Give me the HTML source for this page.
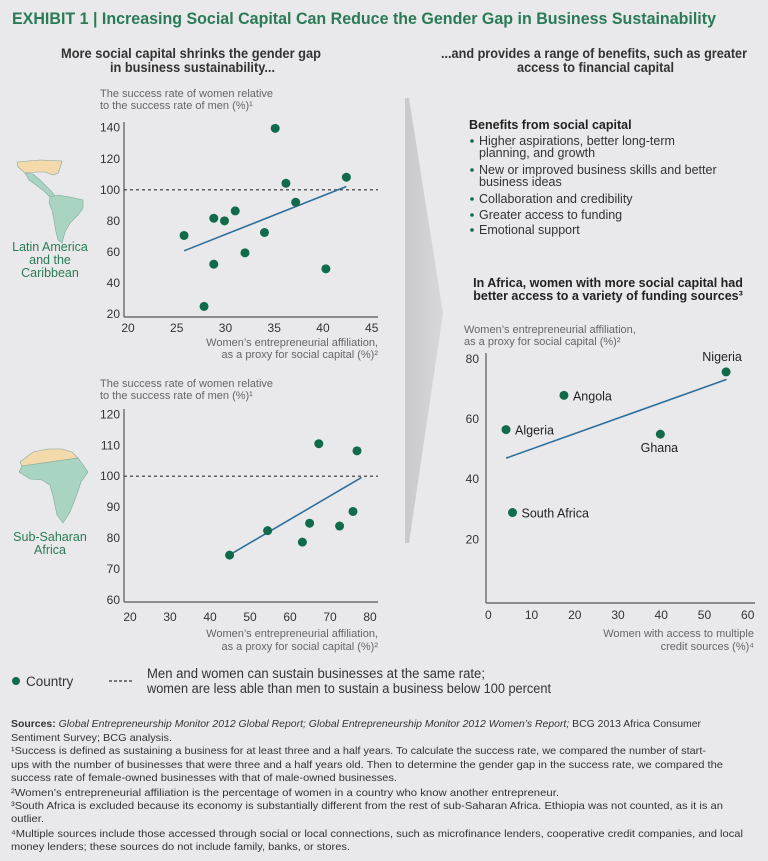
<!DOCTYPE html>
<html><head><meta charset="utf-8">
<style>
html,body{margin:0;padding:0;background:#e9e9eb;}
svg{display:block;font-family:"Liberation Sans Narrow","Liberation Sans",sans-serif;}
.t{fill:#333;}
.lab{fill:#666;font-size:11px;}
.tick{fill:#333;font-size:12px;font-family:"Liberation Sans",sans-serif;}
.ben{fill:#333;font-size:12.5px;font-family:"Liberation Sans",sans-serif;}
.fn{fill:#333;font-size:10.5px;}
</style></head>
<body>
<svg id="page" width="768" height="861" viewBox="0 0 768 861">
<defs>
<linearGradient id="chev" x1="0" x2="1" y1="0" y2="0"><stop offset="0" stop-color="#c9c9cc"/><stop offset="1" stop-color="#d8d8db"/></linearGradient>
</defs>
<rect width="768" height="861" fill="#e9e9eb"/>
<text x="12" y="24" font-size="17" font-weight="bold" fill="#2a7b55" textLength="704" lengthAdjust="spacingAndGlyphs">EXHIBIT 1 | Increasing Social Capital Can Reduce the Gender Gap in Business Sustainability</text>

<g font-size="14" font-weight="bold" class="t">
<text x="61" y="58" textLength="260" lengthAdjust="spacingAndGlyphs" fill="#333">More social capital shrinks the gender gap</text>
<text x="110" y="72" textLength="165" lengthAdjust="spacingAndGlyphs" fill="#333">in business sustainability...</text>
</g>
<g font-size="14" font-weight="bold">
<text x="441" y="58" textLength="306" lengthAdjust="spacingAndGlyphs" fill="#333">...and provides a range of benefits, such as greater</text>
<text x="517" y="72" textLength="157" lengthAdjust="spacingAndGlyphs" fill="#333">access to financial capital</text>
</g>

<polygon points="405,98 409,98 443,313 409,543 405,543" fill="url(#chev)"/>

<!-- maps -->
<g stroke="#7fa89a" stroke-width="0.6">
<polygon points="17,162 40,160 62,161 60,168 58,173 53,175 45,172 37,172 25,173 18,167" fill="#f4d9aa"/>
<polygon points="25,173 33,174 40,180 47,187 52,192 55,196 50,197 44,191 36,185 29,180" fill="#a9d4c1"/>
<polygon points="50,197 58,195 70,197 83,200 83,208 78,215 70,223 65,232 62,243 58,240 56,232 54,220 52,210 49,203" fill="#a9d4c1"/>
</g>
<g font-size="12.5" fill="#2a7b55" text-anchor="middle" font-family="Liberation Sans,sans-serif">
<text x="50" y="251" fill="#2a7b55">Latin America</text><text x="50" y="264" fill="#2a7b55">and the</text><text x="50" y="277" fill="#2a7b55">Caribbean</text>
</g>
<g stroke="#7fa89a" stroke-width="0.6">
<polygon points="20,462 33,452 48,449 62,449 72,452 78,458 22,466" fill="#f4d9aa"/>
<polygon points="22,466 78,458 84,466 88,472 81,482 76,497 70,512 63,523 57,515 53,496 50,485 42,480 30,479 19,472" fill="#a9d4c1"/>
</g>
<g font-size="12.5" text-anchor="middle" font-family="Liberation Sans,sans-serif">
<text x="50" y="541" fill="#2a7b55">Sub-Saharan</text><text x="50" y="554" fill="#2a7b55">Africa</text>
</g>

<!-- chart labels -->
<g class="lab"><text x="100" y="97" class="lab">The success rate of women relative</text><text x="100" y="109" class="lab">to the success rate of men (%)¹</text></g>
<g text-anchor="end"><text x="378" y="346" class="lab">Women’s entrepreneurial affiliation,</text><text x="378" y="358" class="lab">as a proxy for social capital (%)²</text></g>
<g><text x="100" y="387" class="lab">The success rate of women relative</text><text x="100" y="399" class="lab">to the success rate of men (%)¹</text></g>
<g text-anchor="end"><text x="378" y="637" class="lab">Women’s entrepreneurial affiliation,</text><text x="378" y="650" class="lab">as a proxy for social capital (%)²</text></g>
<g><text x="464" y="333" class="lab">Women’s entrepreneurial affiliation,</text><text x="464" y="345" class="lab">as a proxy for social capital (%)²</text></g>
<g text-anchor="end"><text x="754" y="637" class="lab">Women with access to multiple</text><text x="754" y="650" class="lab">credit sources (%)⁴</text></g>

<!-- benefits -->
<g>
<text x="469" y="129" font-size="12.5" font-weight="bold" fill="#222" font-family="Liberation Sans,sans-serif">Benefits from social capital</text>
<g fill="#0f6b4a"><circle cx="472" cy="141" r="1.8"/><circle cx="472" cy="170" r="1.8"/><circle cx="472" cy="199" r="1.8"/><circle cx="472" cy="215" r="1.8"/><circle cx="472" cy="230" r="1.8"/></g>
<text x="479" y="145" class="ben">Higher aspirations, better long-term</text>
<text x="479" y="157" class="ben">planning, and growth</text>
<text x="479" y="174" class="ben">New or improved business skills and better</text>
<text x="479" y="186" class="ben">business ideas</text>
<text x="479" y="203" class="ben">Collaboration and credibility</text>
<text x="479" y="219" class="ben">Greater access to funding</text>
<text x="479" y="234" class="ben">Emotional support</text>
</g>
<g text-anchor="middle" font-weight="bold" font-size="12.5" font-family="Liberation Sans,sans-serif">
<text x="608" y="287" fill="#222">In Africa, women with more social capital had</text>
<text x="608" y="300" fill="#222">better access to a variety of funding sources³</text>
</g>

<g id="c1"></g>
<g id="c2"></g>
<g id="c3"></g>

<!-- legend -->
<g>
<circle cx="16" cy="681" r="4" fill="#0f6b4a"/>
<text x="26" y="686" font-size="13.5" fill="#333">Country</text>
<line x1="109" y1="681" x2="132" y2="681" stroke="#333" stroke-width="1.3" stroke-dasharray="3,2"/>
<text x="147" y="678" font-size="13.5" fill="#333" textLength="338" lengthAdjust="spacingAndGlyphs">Men and women can sustain businesses at the same rate;</text>
<text x="147" y="693" font-size="13.5" fill="#333" textLength="404" lengthAdjust="spacingAndGlyphs">women are less able than men to sustain a business below 100 percent</text>
</g>

<g class="fn">
<text x="11" y="727" class="fn" textLength="690" lengthAdjust="spacingAndGlyphs"><tspan font-weight="bold">Sources: </tspan><tspan font-style="italic">Global Entrepreneurship Monitor 2012 Global Report; Global Entrepreneurship Monitor 2012 Women’s Report;</tspan> BCG 2013 Africa Consumer</text>
<text x="11" y="741" class="fn" textLength="161" lengthAdjust="spacingAndGlyphs">Sentiment Survey; BCG analysis.</text>
<text x="11" y="754" class="fn" textLength="695" lengthAdjust="spacingAndGlyphs">¹Success is defined as sustaining a business for at least three and a half years. To calculate the success rate, we compared the number of start-</text>
<text x="11" y="768" class="fn" textLength="712" lengthAdjust="spacingAndGlyphs">ups with the number of businesses that were three and a half years old. Then to determine the gender gap in the success rate, we compared the</text>
<text x="11" y="781" class="fn" textLength="386" lengthAdjust="spacingAndGlyphs">success rate of female-owned businesses with that of male-owned businesses.</text>
<text x="11" y="796" class="fn" textLength="548" lengthAdjust="spacingAndGlyphs">²Women’s entrepreneurial affiliation is the percentage of women in a country who know another entrepreneur.</text>
<text x="11" y="809" class="fn" textLength="712" lengthAdjust="spacingAndGlyphs">³South Africa is excluded because its economy is substantially different from the rest of sub-Saharan Africa. Ethiopia was not counted, as it is an</text>
<text x="11" y="822" class="fn" textLength="33" lengthAdjust="spacingAndGlyphs">outlier.</text>
<text x="11" y="837" class="fn" textLength="732" lengthAdjust="spacingAndGlyphs">⁴Multiple sources include those accessed through social or local connections, such as microfinance lenders, cooperative credit companies, and local</text>
<text x="11" y="850" class="fn" textLength="339" lengthAdjust="spacingAndGlyphs">money lenders; these sources do not include family, banks, or stores.</text>
</g>
</svg>
<script>
// Chart 1: Latin America and the Caribbean
const c1X = [25.75, 27.8, 28.8, 28.8, 29.9, 31.0, 32.0, 34.0, 35.1, 36.2, 37.2, 40.3, 42.4];
const c1Y = [70.6, 24.9, 81.7, 52.1, 80.0, 86.4, 59.4, 72.5, 139.6, 104.2, 92.0, 49.1, 108.1];
const c1TrendX = [25.75, 42.4];
const c1TrendY = [60.7, 102.1];
const c1XTicks = [20, 25, 30, 35, 40, 45];
const c1YTicks = [20, 40, 60, 80, 100, 120, 140];
const c1Parity = 100;
// Chart 2: Sub-Saharan Africa
const c2X = [44.9, 54.4, 63.1, 64.9, 67.2, 72.4, 75.75, 76.75];
const c2Y = [74.5, 82.4, 78.7, 84.8, 110.5, 83.9, 88.6, 108.2];
const c2TrendX = [44.9, 77.9];
const c2TrendY = [74.6, 99.6];
const c2XTicks = [20, 30, 40, 50, 60, 70, 80];
const c2YTicks = [60, 70, 80, 90, 100, 110, 120];
const c2Parity = 100;
// Chart 3: funding access
const c3Names = ["Algeria", "South Africa", "Angola", "Ghana", "Nigeria"];
const c3X = [4.1, 5.6, 17.5, 39.8, 55.0];
const c3Y = [56.5, 28.9, 67.9, 55.0, 75.7];
const c3TrendX = [4.1, 55.1];
const c3TrendY = [47.0, 73.2];
const c3XTicks = [0, 10, 20, 30, 40, 50, 60];
const c3YTicks = [20, 40, 60, 80];

const NS = "http://www.w3.org/2000/svg";
function mk(parent, tag, attrs) {
  const e = document.createElementNS(NS, tag);
  for (const k in attrs) e.setAttribute(k, attrs[k]);
  parent.appendChild(e);
  return e;
}
function scale(d0, d1, r0, r1) { return v => r0 + (v - d0) / (d1 - d0) * (r1 - r0); }

function drawChart(g, cfg) {
  const sx = scale(cfg.xd[0], cfg.xd[1], cfg.xr[0], cfg.xr[1]);
  const sy = scale(cfg.yd[0], cfg.yd[1], cfg.yr[0], cfg.yr[1]);
  const yax = mk(g, "line", {x1: cfg.axL, y1: cfg.axT, x2: cfg.axL, y2: cfg.axB, stroke: "#555", "stroke-width": 1.2});
  
  
  const xax = mk(g, "line", {x1: cfg.axL, y1: cfg.axB, x2: cfg.axR, y2: cfg.axB, stroke: "#555", "stroke-width": 1.2});
  
  
  cfg.yTicks.forEach(v => {
    const t = mk(g, "text", {x: cfg.yLabX, y: sy(v) + 4, "text-anchor": "end", class: "tick"});
    t.textContent = v;
    
    
  });
  cfg.xTicks.forEach(v => {
    const t = mk(g, "text", {x: sx(v), y: cfg.xLabY, "text-anchor": "middle", class: "tick"});
    t.textContent = v;
    
    
  });
  if (cfg.parity !== undefined) {
    const d = mk(g, "line", {x1: cfg.axL, y1: sy(cfg.parity), x2: cfg.axR, y2: sy(cfg.parity), stroke: "#333", "stroke-width": 1.2, "stroke-dasharray": "3,3"});
    
    
  }
  const tr = mk(g, "line", {x1: sx(cfg.tx[0]), y1: sy(cfg.ty[0]), x2: sx(cfg.tx[1]), y2: sy(cfg.ty[1]), stroke: "#2f6f9c", "stroke-width": 1.6});
  
  
  cfg.x.forEach((v, i) => {
    const c = mk(g, "circle", {cx: sx(v), cy: sy(cfg.y[i]), r: 4.5, fill: "#0f6b4a"});
    
    
  });
  return {sx, sy};
}

drawChart(document.getElementById("c1"), {
  xd: [20, 45], xr: [128, 371.7], yd: [20, 140], yr: [314, 127.7],
  axL: 124, axR: 378, axT: 122, axB: 317, yLabX: 120, xLabY: 332,
  yTicks: c1YTicks, xTicks: c1XTicks, parity: c1Parity,
  x: c1X, y: c1Y, tx: c1TrendX, ty: c1TrendY
});
drawChart(document.getElementById("c2"), {
  xd: [20, 80], xr: [130, 370], yd: [60, 120], yr: [600, 414.3],
  axL: 124, axR: 378, axT: 409, axB: 602, yLabX: 120, xLabY: 621,
  yTicks: c2YTicks, xTicks: c2XTicks, parity: c2Parity,
  x: c2X, y: c2Y, tx: c2TrendX, ty: c2TrendY
});
const s3 = drawChart(document.getElementById("c3"), {
  xd: [0, 60], xr: [488.3, 747.7], yd: [20, 80], yr: [539.3, 359],
  axL: 486, axR: 755, axT: 353, axB: 603, yLabX: 479, xLabY: 619,
  yTicks: c3YTicks, xTicks: c3XTicks,
  x: c3X, y: c3Y, tx: c3TrendX, ty: c3TrendY
});
const g3 = document.getElementById("c3");
c3Names.forEach((n, i) => {
  const px = s3.sx(c3X[i]), py = s3.sy(c3Y[i]);
  let attrs;
  if (n === "Nigeria") attrs = {x: px - 4, y: py - 11, "text-anchor": "middle"};
  else if (n === "Ghana") attrs = {x: px - 1, y: py + 18, "text-anchor": "middle"};
  else attrs = {x: px + 9, y: py + 5, "text-anchor": "start"};
  attrs["font-size"] = 12.5; attrs.fill = "#222"; attrs["font-family"] = "Liberation Sans,sans-serif";
  const t = mk(g3, "text", attrs);
  t.textContent = n;
  
  
});
</script>
</body></html>
